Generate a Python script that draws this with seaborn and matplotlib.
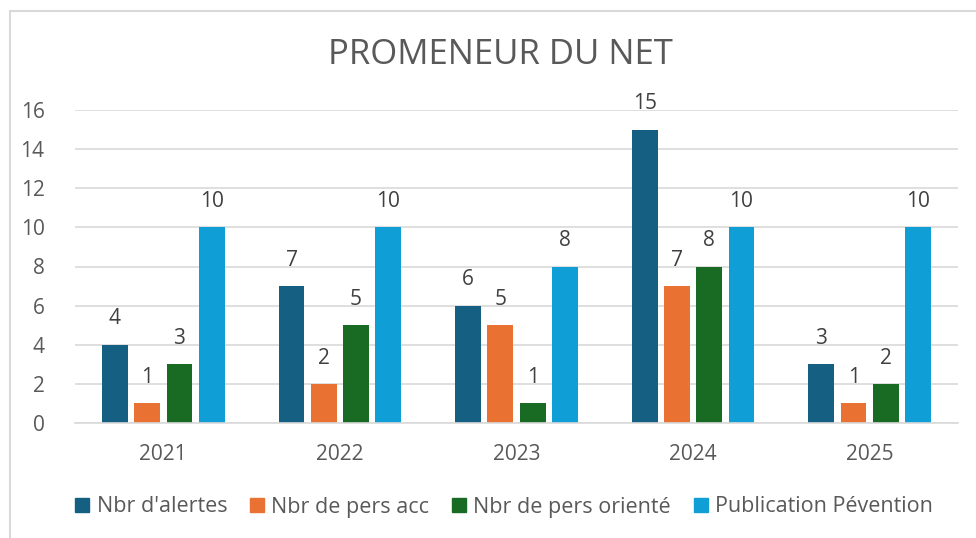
import matplotlib
matplotlib.use("Agg")
import matplotlib.pyplot as plt
import seaborn as sns
import pandas as pd
from matplotlib.patches import Rectangle

years = ["2021", "2022", "2023", "2024", "2025"]
series = ["Nbr d'alertes", "Nbr de pers acc", "Nbr de pers orienté", "Publication Pévention"]
alertes = [4, 7, 6, 15, 3]
pers_acc = [1, 2, 5, 7, 1]
pers_oriente = [3, 5, 1, 8, 2]
publication = [10, 10, 8, 10, 10]
colors = ["#156082", "#E97132", "#196B24", "#0F9ED5"]
y_ticks = [0, 2, 4, 6, 8, 10, 12, 14, 16]

rows = []
for name, vals in zip(series, [alertes, pers_acc, pers_oriente, publication]):
    for y, v in zip(years, vals):
        rows.append({"Année": y, "Série": name, "Valeur": v})
df = pd.DataFrame(rows)

sns.set_theme(style="white")
plt.rcParams['font.family'] = ['Open Sans', 'DejaVu Sans']
text_color = "#595959"

fig = plt.figure(figsize=(9.76, 5.38), dpi=100)
ax = fig.add_axes([75/976, 1 - 423/538, (958-75)/976, (423-110)/538])

sns.barplot(data=df, x="Année", y="Valeur", hue="Série", palette=colors,
            width=0.73, gap=0.2, ax=ax, saturation=1, legend=True,
            edgecolor="none")

for cont in ax.containers:
    ax.bar_label(cont, padding=11, fontsize=15, color="#404040")

ax.set_ylim(0, 16)
ax.set_yticks(y_ticks)
ax.set_xlim(-0.5, 4.5)
ax.grid(axis="y", color="#D9D9D9", linewidth=1.2)
ax.set_axisbelow(True)
for s in ["top", "right", "left"]:
    ax.spines[s].set_visible(False)
ax.spines["bottom"].set_color("#D9D9D9")
ax.spines["bottom"].set_linewidth(1.2)
ax.set_xlabel("")
ax.set_ylabel("")
ax.tick_params(axis="both", length=0, labelsize=15, colors=text_color)
ax.tick_params(axis="x", pad=15)
ax.tick_params(axis="y", pad=22)
for lbl in ax.get_yticklabels():
    lbl.set_horizontalalignment("right")

ax.legend_.remove()
handles = [Rectangle((0, 0), 1, 1, color=c) for c in colors]
fig.legend(handles, series, loc="center", bbox_to_anchor=(504/976, 1 - 507/538),
           ncol=4, frameon=False, fontsize=15.5, labelcolor=text_color,
           handlelength=0.65, handleheight=0.65, handletextpad=0.35, columnspacing=1.05)

fig.text(500/976, 1 - 55/538, "PROMENEUR DU NET", ha="center", va="center",
         fontsize=25, color=text_color)

fig.patches.append(Rectangle((10/976, -0.1), 1.2, 1 - 11/538 + 0.1, transform=fig.transFigure,
                             fill=False, edgecolor="#D9D9D9", linewidth=1.5))

fig.savefig("out.png", dpi=100)
